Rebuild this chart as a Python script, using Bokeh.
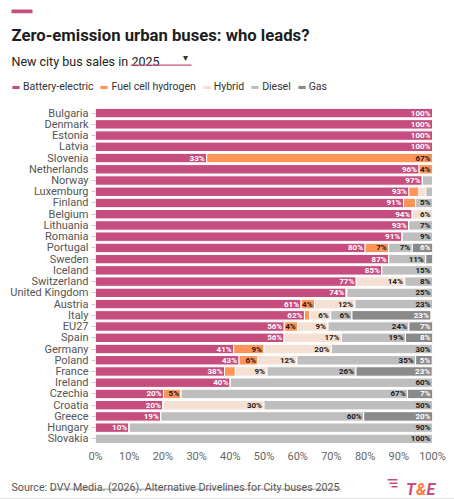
from bokeh.plotting import figure
from bokeh.layouts import column
from bokeh.models import (ColumnDataSource, Range1d, FactorRange, Label, BoxAnnotation,
                          Legend, LegendItem, FixedTicker)
from bokeh.core.properties import value
from bokeh.embed import file_html
from bokeh.resources import INLINE

countries = ["Bulgaria", "Denmark", "Estonia", "Latvia", "Slovenia", "Netherlands", "Norway",
             "Luxemburg", "Finland", "Belgium", "Lithuania", "Romania", "Portugal", "Sweden",
             "Iceland", "Switzerland", "United Kingdom", "Austria", "Italy", "EU27", "Spain",
             "Germany", "Poland", "France", "Ireland", "Czechia", "Croatia", "Greece",
             "Hungary", "Slovakia"]
bev    = [100, 100, 100, 100, 33, 96, 97, 93, 91.4, 94, 93, 91, 80, 87, 85, 77.4, 74.4, 61, 62, 56, 56, 41, 42.6, 38.3, 40, 20.2, 20, 19.4, 10, 0]
fch    = [0, 0, 0, 0, 67, 4, 0, 3, 3.6, 0, 0, 0, 7, 0, 0, 0, 0, 4, 1.6, 4, 0, 9, 5.6, 3.2, 0, 5.2, 0, 0, 0, 0]
hybrid = [0, 0, 0, 0, 0, 0, 0, 2, 0, 6, 0, 0, 0, 0, 0, 14.4, 0.2, 12, 6.2, 9, 17, 20, 11.6, 9.4, 0, 0, 30, 0, 0, 0]
diesel = [0, 0, 0, 0, 0, 0, 3, 2, 5, 0, 7, 9, 7, 11, 15, 8.2, 25.4, 23, 6.3, 24, 19, 30, 35.2, 26.4, 60, 67.2, 50, 60.2, 90, 100]
gas    = [0, 0, 0, 0, 0, 0, 0, 0, 0, 0, 0, 0, 6, 2, 0, 0, 0, 0, 23.4, 7, 8, 0, 4.9, 22.6, 0, 7.4, 0, 20.4, 0, 0]

series_keys = ["bev", "fch", "hybrid", "diesel", "gas"]
series_names = ["Battery-electric", "Fuel cell hydrogen", "Hybrid", "Diesel", "Gas"]
x_ticks = [0, 10, 20, 30, 40, 50, 60, 70, 80, 90, 100]
x_tick_labels = ["0%", "10%", "20%", "30%", "40%", "50%", "60%", "70%", "80%", "90%", "100%"]

PINK = "#C64E7F"
colors = [PINK, "#FF9458", "#F5E1D3", "#BEBEBE", "#8A8A8A"]
label_colors = ["#FFFFFF", "#1A1A1A", "#1A1A1A", "#1A1A1A", "#FFFFFF"]
FONT = "Roboto"

W = 454
H_HEAD, H_FOOT = 100, 34
TOP, FRAME_H, BOTTOM = 7, 337, 22
H_MAIN = TOP + FRAME_H + BOTTOM


def blank_fig(h):
    f = figure(width=W, height=h, output_backend="svg", toolbar_location=None, title=None,
               x_axis_location=None, y_axis_location=None, min_border=0,
               x_range=Range1d(0, 1), y_range=Range1d(0, 1))
    f.outline_line_color = None
    f.xgrid.grid_line_color = None
    f.ygrid.grid_line_color = None
    f.frame_align = False
    return f


def lab(f, text, x, y, size, color="#222222", style="normal", align="left", baseline="alphabetic"):
    f.add_layout(Label(x=x, y=y, x_units="canvas", y_units="canvas", text=text,
                       text_font=FONT, text_font_size=size, text_color=color,
                       text_font_style=style, text_align=align, text_baseline=baseline))


def box(f, l, r, t, b, color):
    f.add_layout(BoxAnnotation(left=l, right=r, top=t, bottom=b,
                               left_units="canvas", right_units="canvas",
                               top_units="canvas", bottom_units="canvas",
                               fill_color=color, fill_alpha=1, line_color=None))


# ---------------- header ----------------
head = blank_fig(H_HEAD)
box(head, 11, 32, 9, 12.7, PINK)
lab(head, "Zero-emission urban buses: who leads?", 11, 34.5, "16.7px", "#1D1D1D", "bold")
lab(head, "New city bus sales in", 11, 61, "12.5px", "#222222")
lab(head, "2025", 131, 61, "12.5px", "#222222")
lab(head, "\u25BE", 185, 57, "10px", "#333333", align="center", baseline="middle")
box(head, 130, 191, 64, 65.2, PINK)

# legend swatches: one key renderer per series (no visible data)
key_src = ColumnDataSource(dict(y=[0.5], left=[float("nan")], right=[float("nan")]))
key_renderers = [head.hbar(y="y", left="left", right="right", height=0.1, fill_color=c,
                           line_color=None, source=key_src) for c in colors]
legend = Legend(items=[LegendItem(label=n, renderers=[r])
                       for n, r in zip(series_names, key_renderers)],
                orientation="horizontal", location=(11, 7), glyph_width=9, glyph_height=4,
                label_standoff=3, spacing=6, padding=0, margin=0, border_line_color=None,
                background_fill_alpha=0, label_text_font=FONT, label_text_font_size="10.5px",
                label_text_color="#333333", label_height=12, label_text_baseline="middle")
head.add_layout(legend, "center")

# ---------------- main chart ----------------
p = figure(width=W, height=H_MAIN, output_backend="svg", toolbar_location=None, title=None,
           y_range=FactorRange(factors=countries[::-1]), x_range=Range1d(0, 100),
           min_border_left=95, min_border_right=22, min_border_top=TOP,
           min_border_bottom=BOTTOM)
p.outline_line_color = None
p.xgrid.grid_line_color = None
p.ygrid.grid_line_color = None

source = ColumnDataSource(dict(country=countries, bev=bev, fch=fch, hybrid=hybrid,
                               diesel=diesel, gas=gas))
renderers = p.hbar_stack(series_keys, y="country", height=0.84, fill_color=colors,
                         line_color="white", line_width=1, source=source)

lx, ly, lt, lc = [], [], [], []
data = [bev, fch, hybrid, diesel, gas]
for i, c in enumerate(countries):
    cum = 0.0
    for j in range(len(series_keys)):
        v = data[j][i]
        cum += v
        if v >= 3.9:
            lx.append(cum)
            ly.append(c)
            lt.append(f"{round(v)}%")
            lc.append(label_colors[j])
p.text(x="x", y="y", text="t", text_color="c",
       source=ColumnDataSource(dict(x=lx, y=ly, t=lt, c=lc)),
       text_align="right", text_baseline="middle", x_offset=-2,
       text_font=value(FONT), text_font_style="bold", text_font_size="8px")

p.xaxis.ticker = FixedTicker(ticks=x_ticks)
p.xaxis.major_label_overrides = {t: l for t, l in zip(x_ticks, x_tick_labels)}
p.xaxis.axis_line_color = None
p.xaxis.major_tick_line_color = None
p.xaxis.minor_tick_line_color = None
p.xaxis.major_tick_out = 0
p.xaxis.major_label_standoff = 5
p.xaxis.major_label_text_font = FONT
p.xaxis.major_label_text_font_size = "11px"
p.xaxis.major_label_text_color = "#666666"

p.yaxis.axis_line_color = None
p.yaxis.major_tick_in = 0
p.yaxis.major_tick_out = 4
p.yaxis.major_tick_line_color = "#CCCCCC"
p.yaxis.major_label_standoff = 3
p.yaxis.major_label_text_font = FONT
p.yaxis.major_label_text_font_size = "11px"
p.yaxis.major_label_text_color = "#555555"

# ---------------- footer ----------------
foot = blank_fig(H_FOOT)
lab(foot, "Source: DVV Media. (2026). Alternative Drivelines for City buses 2025", 11, 20.5,
    "10.7px", "#555555")
box(foot, 49, 340, 22.2, 23.1, "#777777")
box(foot, 387, 397, 12.5, 14, PINK)
box(foot, 389, 397, 16, 17.5, PINK)
box(foot, 391, 397, 19.5, 21, PINK)
lab(foot, "T", 405.5, 22.5, "16px", PINK, "bold italic")
lab(foot, "&", 415.5, 22.5, "16px", "#FF7A3D", "bold italic")
lab(foot, "E", 426, 22.5, "16px", PINK, "bold italic")
box(foot, 0, W, 31.5, 32.5, "#E6E6E6")

layout = column(head, p, foot, spacing=0)
open("out.html", "w").write(file_html(layout, INLINE))
